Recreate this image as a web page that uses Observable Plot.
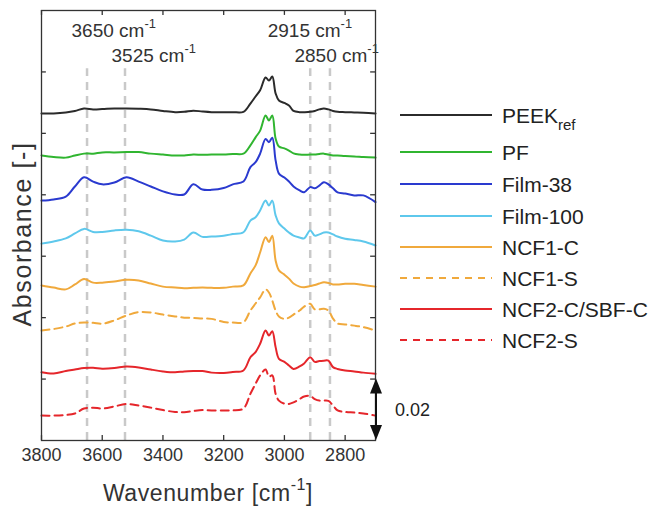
<!DOCTYPE html>
<html><head><meta charset="utf-8">
<script src="https://cdn.jsdelivr.net/npm/d3@7"></script>
<script src="https://cdn.jsdelivr.net/npm/@observablehq/plot@0.6"></script>
<style>
body{margin:0;background:#fff;}
#chart{width:656px;height:507px;}
</style>
</head><body><div id="chart"></div>
<script>
// Wavenumber grid (cm^-1) at which the spectra were read
const wavenumbers = [3800,3760,3720,3690,3660,3630,3600,3560,3520,3480,3440,3400,3360,3330,3300,3270,3240,3200,3170,3135,3112,3095,3080,3062,3051,3040,3029,3018,3000,2985,2970,2950,2935,2915,2900,2885,2870,2855,2840,2825,2800,2770,2740,2700];

// Offset absorbance values [-]
const peekRef = [0.1065,0.1065,0.1068,0.1073,0.1081,0.1078,0.1079,0.1081,0.1081,0.1080,0.1078,0.1073,0.1069,0.1070,0.1074,0.1071,0.1069,0.1069,0.1069,0.1070,0.1097,0.1120,0.1140,0.1182,0.1172,0.1185,0.1130,0.1107,0.1099,0.1091,0.1073,0.1069,0.1069,0.1070,0.1073,0.1078,0.1081,0.1078,0.1073,0.1070,0.1069,0.1068,0.1067,0.1065];
const pf = [0.0928,0.0923,0.0921,0.0928,0.0934,0.0934,0.0938,0.0938,0.0939,0.0939,0.0934,0.0931,0.0928,0.0928,0.0931,0.0930,0.0931,0.0931,0.0933,0.0934,0.0961,0.0987,0.1009,0.1058,0.1042,0.1058,0.0983,0.0957,0.0951,0.0944,0.0935,0.0931,0.0930,0.0931,0.0931,0.0933,0.0934,0.0931,0.0928,0.0928,0.0926,0.0925,0.0923,0.0921];
const film38 = [0.0781,0.0785,0.0794,0.0827,0.0857,0.0843,0.0834,0.0840,0.0857,0.0843,0.0827,0.0811,0.0801,0.0801,0.0834,0.0817,0.0816,0.0822,0.0834,0.0843,0.0890,0.0906,0.0934,0.0982,0.0971,0.0986,0.0912,0.0869,0.0856,0.0843,0.0827,0.0814,0.0808,0.0825,0.0821,0.0830,0.0841,0.0834,0.0821,0.0808,0.0804,0.0798,0.0798,0.0776];
const film100 = [0.0641,0.0648,0.0658,0.0674,0.0689,0.0679,0.0679,0.0684,0.0686,0.0681,0.0667,0.0651,0.0648,0.0654,0.0677,0.0663,0.0664,0.0667,0.0672,0.0678,0.0716,0.0727,0.0749,0.0781,0.0765,0.0781,0.0733,0.0707,0.0690,0.0677,0.0667,0.0661,0.0658,0.0684,0.0667,0.0671,0.0677,0.0677,0.0671,0.0664,0.0657,0.0653,0.0648,0.0635];
const ncf1C = [0.0505,0.0498,0.0492,0.0508,0.0526,0.0514,0.0514,0.0518,0.0523,0.0521,0.0511,0.0501,0.0498,0.0496,0.0497,0.0498,0.0497,0.0497,0.0501,0.0505,0.0544,0.0570,0.0612,0.0662,0.0646,0.0667,0.0586,0.0554,0.0540,0.0527,0.0511,0.0501,0.0499,0.0503,0.0506,0.0511,0.0515,0.0513,0.0508,0.0508,0.0510,0.0510,0.0506,0.0501];
const ncf1S = [0.0358,0.0363,0.0371,0.0381,0.0384,0.0383,0.0380,0.0391,0.0407,0.0418,0.0417,0.0410,0.0404,0.0400,0.0399,0.0397,0.0396,0.0386,0.0384,0.0385,0.0423,0.0446,0.0466,0.0492,0.0482,0.0456,0.0423,0.0404,0.0396,0.0400,0.0410,0.0423,0.0436,0.0445,0.0427,0.0427,0.0429,0.0423,0.0397,0.0381,0.0378,0.0374,0.0369,0.0358];
const ncf2C = [0.0222,0.0218,0.0226,0.0231,0.0236,0.0237,0.0234,0.0236,0.0241,0.0238,0.0231,0.0225,0.0222,0.0225,0.0226,0.0226,0.0221,0.0220,0.0223,0.0228,0.0271,0.0288,0.0315,0.0358,0.0342,0.0356,0.0304,0.0266,0.0256,0.0244,0.0233,0.0241,0.0251,0.0271,0.0256,0.0259,0.0260,0.0260,0.0239,0.0233,0.0228,0.0225,0.0221,0.0217];
const ncf2S = [0.0081,0.0081,0.0083,0.0088,0.0104,0.0107,0.0104,0.0111,0.0119,0.0114,0.0107,0.0099,0.0093,0.0092,0.0096,0.0099,0.0098,0.0098,0.0098,0.0104,0.0152,0.0185,0.0212,0.0231,0.0208,0.0212,0.0152,0.0130,0.0120,0.0119,0.0124,0.0135,0.0143,0.0145,0.0135,0.0130,0.0130,0.0129,0.0114,0.0098,0.0093,0.0091,0.0088,0.0081];

const seriesNames = ["PEEK_ref","PF","Film-38","Film-100","NCF1-C","NCF1-S","NCF2-C/SBF-C","NCF2-S"];
const seriesValues = [peekRef, pf, film38, film100, ncf1C, ncf1S, ncf2C, ncf2S];
const seriesColors = ["#2b2b2b","#30b530","#2a3acf","#5ec8ec","#f0a93c","#f0a93c","#e5262b","#e5262b"];
const seriesDashed = [false,false,false,false,false,true,false,true];

const markerLines = [3650, 3525, 2915, 2850];
const xTicks = [3800, 3600, 3400, 3200, 3000, 2800];
const yTicks = [0.02, 0.04, 0.06, 0.08, 0.10, 0.12];
const scaleBar = 0.02;

const rows = seriesNames.flatMap((s, i) => wavenumbers.map((w, j) => ({series: s, wn: w, a: seriesValues[i][j]})));

const FONT = "'Liberation Sans', Arial, sans-serif";
const marks = [];
marks.push(Plot.ruleX(markerLines, {x: d => d, y1: 0, y2: 0.121, stroke: "#c9c9c9", strokeWidth: 2.5, strokeDasharray: "8,6"}));
seriesNames.forEach((s, i) => {
  marks.push(Plot.line(rows.filter(r => r.series === s), {
    x: "wn", y: "a", stroke: seriesColors[i], strokeWidth: 2,
    strokeDasharray: seriesDashed[i] ? "8,5" : null, curve: "catmull-rom"
  }));
});
marks.push(Plot.ruleX(xTicks, {x: d => d, y1: 0, y2: 0.0016, stroke: "#333", strokeWidth: 1.3}));
marks.push(Plot.ruleX(xTicks, {x: d => d, y1: 0.14 - 0.0016, y2: 0.14, stroke: "#333", strokeWidth: 1.3}));
marks.push(Plot.ruleY(yTicks, {y: d => d, x1: 3800, x2: 3784, stroke: "#333", strokeWidth: 1.3}));
marks.push(Plot.ruleY(yTicks, {y: d => d, x1: 2700, x2: 2716, stroke: "#333", strokeWidth: 1.3}));
marks.push(Plot.frame({stroke: "#333", strokeWidth: 1.3}));
marks.push(Plot.axisX({ticks: xTicks, tickSize: 0, tickPadding: 8, tickFormat: d => String(d), label: null, fontSize: 18, fill: "#333"}));

const plot = Plot.plot({
  width: 656, height: 507,
  marginLeft: 41, marginRight: 281, marginTop: 10, marginBottom: 67,
  style: {fontFamily: FONT, background: "#fff", color: "#333"},
  x: {domain: [3800, 2700], axis: null},
  y: {domain: [0, 0.14], axis: null},
  marks
});
document.getElementById("chart").appendChild(plot);

const svg = d3.select(plot);
const xs = plot.scale("x"), ys = plot.scale("y");
const X = v => xs.apply(v), Y = v => ys.apply(v);

function cmLabel(g, x, y, num, size) {
  const t = g.append("text").attr("x", x).attr("y", y).attr("font-family", FONT)
    .attr("text-anchor", "start").attr("font-size", size).attr("fill", "#333");
  t.append("tspan").text(num + " cm");
  t.append("tspan").attr("dy", -size * 0.45).attr("font-size", size * 0.68).text("-1");
  return t;
}
const ann = svg.append("g");
cmLabel(ann, X(3650) - 15, 37, "3650", 19);
cmLabel(ann, X(3525) - 13, 62, "3525", 19);
cmLabel(ann, X(2915) - 42, 37, "2915", 19);
cmLabel(ann, X(2850) - 35, 62, "2850", 19);

// axis titles
const xt = svg.append("text").attr("x", 208).attr("y", 501).attr("text-anchor", "middle")
  .attr("font-family", FONT).attr("font-size", 23).attr("fill", "#333").attr("letter-spacing", 0.6);
xt.append("tspan").text("Wavenumber [cm");
xt.append("tspan").attr("dy", -11).attr("font-size", 16).text("-1");
xt.append("tspan").attr("dy", 11).text("]");
svg.append("text").attr("transform", "translate(31,234) rotate(-90)").attr("text-anchor", "middle")
  .attr("font-family", FONT).attr("font-size", 25).attr("fill", "#333").attr("letter-spacing", 1.6)
  .text("Absorbance [-]");

// legend
const legY = [115, 152, 184, 216, 247, 278, 309, 340];
const leg = svg.append("g");
seriesNames.forEach((s, i) => {
  leg.append("line").attr("x1", 400).attr("x2", 492).attr("y1", legY[i]).attr("y2", legY[i])
    .attr("stroke", seriesColors[i]).attr("stroke-width", 2)
    .attr("stroke-dasharray", seriesDashed[i] ? "7,6" : null);
  const t = leg.append("text").attr("x", 502).attr("y", legY[i] + 7.5).attr("font-family", FONT)
    .attr("text-anchor", "start").attr("font-size", 21).attr("fill", "#222");
  if (s === "PEEK_ref") {
    t.append("tspan").text("PEEK");
    t.append("tspan").attr("dy", 7).attr("font-size", 15).text("ref");
  } else t.text(s);
});

// scale bar (0.02 absorbance)
const sx = X(2700) + 1, sy0 = Y(0), sy1 = Y(scaleBar);
const sb = svg.append("g");
sb.append("line").attr("x1", sx).attr("x2", sx).attr("y1", sy1 + 8).attr("y2", sy0 - 8)
  .attr("stroke", "#111").attr("stroke-width", 2);
sb.append("path").attr("d", `M${sx},${sy1} L${sx - 6},${sy1 + 15} L${sx + 6},${sy1 + 15} Z`).attr("fill", "#111");
sb.append("path").attr("d", `M${sx},${sy0} L${sx - 6},${sy0 - 15} L${sx + 6},${sy0 - 15} Z`).attr("fill", "#111");
svg.append("text").attr("x", 395).attr("y", (sy0 + sy1) / 2 + 6.5).attr("font-family", FONT)
  .attr("text-anchor", "start").attr("font-size", 18).attr("fill", "#222").text(String(scaleBar));
</script>
</body></html>
